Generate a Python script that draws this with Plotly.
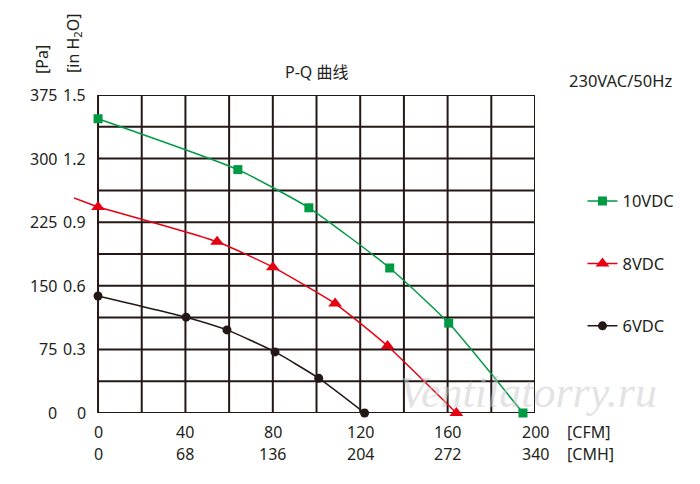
import plotly.graph_objects as go

# P-Q curves (x in CFM, y in Pa)
q_10v = [0, 64, 96.5, 133.5, 160.5, 194.5]
p_10v = [347, 287, 242, 171, 106, 0]

q_8v = [0, 54.5, 80, 108.5, 132.5, 164]
p_8v = [243, 202, 172, 129, 79, 0]
# the red curve starts a bit left of the 0 axis
q_8v_lead = [-11, 0]
p_8v_lead = [253.5, 243]

q_6v = [0, 40.3, 59, 81, 101, 122]
p_6v = [138, 113, 98, 72, 41, 0]

cfm_ticks = [0, 40, 80, 120, 160, 200]
cmh_labels = ["0", "68", "136", "204", "272", "340"]
pa_ticks = [0, 75, 150, 225, 300, 375]
inh2o_labels = ["0", "0.3", "0.6", "0.9", "1.2", "1.5"]
grid_x = list(range(0, 201, 20))
grid_y = [i * 37.5 for i in range(11)]

FONT = "Noto Sans, Noto Sans CJK SC, sans-serif"
TXT = "#231f20"
GREEN = "#009a44"
RED = "#e60012"
BLACK = "#231815"

fig = go.Figure()

fig.add_trace(go.Scatter(x=q_10v, y=p_10v, name="10VDC", mode="lines+markers",
                         line=dict(color=GREEN, width=1.5, shape="spline", smoothing=0.5),
                         marker=dict(symbol="square", size=9, color=GREEN),
                         cliponaxis=False, legendgroup="a"))
fig.add_trace(go.Scatter(x=q_8v_lead, y=p_8v_lead, mode="lines", showlegend=False,
                         line=dict(color=RED, width=1.5), hoverinfo="skip"))
fig.add_trace(go.Scatter(x=q_8v, y=p_8v, name="8VDC", mode="lines+markers",
                         line=dict(color=RED, width=1.5, shape="spline", smoothing=0.5),
                         marker=dict(symbol="triangle-up", size=12, color=RED),
                         cliponaxis=False, legendgroup="b"))
fig.add_trace(go.Scatter(x=q_6v, y=p_6v, name="6VDC", mode="lines+markers",
                         line=dict(color=BLACK, width=1.5, shape="spline", smoothing=0.5),
                         marker=dict(symbol="circle", size=9, color=BLACK),
                         cliponaxis=False, legendgroup="c"))

# grid drawn as shapes so it starts at x=0 while the axis range starts at -11
for gx in grid_x:
    fig.add_shape(type="line", xref="x", yref="y", x0=gx, x1=gx, y0=0, y1=375,
                  line=dict(color=BLACK, width=2), layer="below")
for gy in grid_y:
    fig.add_shape(type="line", xref="x", yref="y", x0=0, x1=200, y0=gy, y1=gy,
                  line=dict(color=BLACK, width=2), layer="below")

ann = []
for v, lab in zip(pa_ticks, inh2o_labels):
    ann.append(dict(x=0, y=v, xref="x", yref="y", text=str(v), showarrow=False,
                    xanchor="right", yanchor="middle", xshift=-39))
    ann.append(dict(x=0, y=v, xref="x", yref="y", text=lab, showarrow=False,
                    xanchor="right", yanchor="middle", xshift=-10))
for v, lab in zip(cfm_ticks, cmh_labels):
    ann.append(dict(x=v, y=0, xref="x", yref="paper", text=str(v), showarrow=False,
                    xanchor="center", yanchor="top", yshift=-6))
    ann.append(dict(x=v, y=0, xref="x", yref="paper", text=lab, showarrow=False,
                    xanchor="center", yanchor="top", yshift=-28))
ann += [
    dict(x=200, y=0, xref="x", yref="paper", text="[CFM]", showarrow=False,
         xanchor="left", yanchor="top", yshift=-6, xshift=30),
    dict(x=200, y=0, xref="x", yref="paper", text="[CMH]", showarrow=False,
         xanchor="left", yanchor="top", yshift=-28, xshift=30),
    dict(x=100, y=1, xref="x", yref="paper", text="P-Q 曲线", showarrow=False,
         xanchor="center", yanchor="middle", yshift=23),
    dict(x=200, y=1, xref="x", yref="paper", text="230VAC/50Hz", showarrow=False,
         xanchor="left", yanchor="middle", yshift=15, xshift=32, font=dict(size=16.5)),
    dict(x=-11, y=1, xref="x", yref="paper", text="[Pa]", showarrow=False,
         xanchor="center", yanchor="middle", textangle=-90, xshift=-32, yshift=35),
    dict(x=-11, y=1, xref="x", yref="paper", text="[in H<sub>2</sub>O]", showarrow=False,
         xanchor="center", yanchor="middle", textangle=-90, xshift=-1, yshift=51),
    dict(x=0.985, y=0.065, xref="paper", yref="paper", text="<i>Ventilatorry.ru</i>",
         xanchor="center", yanchor="middle", showarrow=False,
         font=dict(family="Liberation Serif", size=44, color="rgba(200,200,200,0.5)")),
]

# the page puts the figure 8px in from the top-left corner
fig.update_layout(
    width=700, height=484,
    margin=dict(l=66, r=173, t=87, b=79, autoexpand=False),
    paper_bgcolor="white", plot_bgcolor="white",
    font=dict(family=FONT, size=16, color=TXT),
    xaxis=dict(range=[-11, 200], showgrid=False, zeroline=False, showticklabels=False,
               ticks=""),
    yaxis=dict(range=[0, 375], showgrid=False, zeroline=False, showticklabels=False,
               ticks=""),
    showlegend=True,
    legend=dict(x=1.103, y=0.721, xanchor="left", yanchor="top", tracegroupgap=38,
                bgcolor="rgba(0,0,0,0)", font=dict(size=16.5, color=TXT)),
    annotations=ann,
)

fig.write_html("out.html")
